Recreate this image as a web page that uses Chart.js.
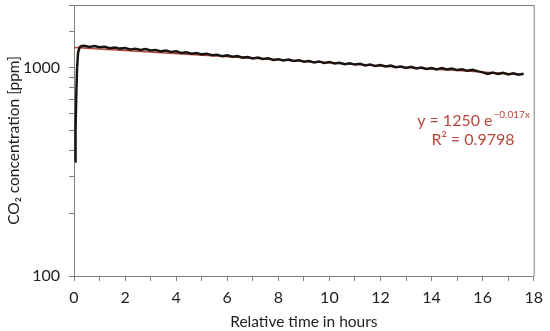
<!DOCTYPE html>
<html>
<head>
<meta charset="utf-8">
<script src="https://cdn.jsdelivr.net/npm/chart.js@4"></script>
<style>
  html, body { margin: 0; padding: 0; background: #fff; }
  #wrap { width: 550px; height: 331px; }
</style>
</head>
<body>
<div id="wrap"><canvas id="co2Chart" width="550" height="331"></canvas></div>
<script>
const riseTimes = [0.04, 0.05, 0.07, 0.09, 0.12, 0.16, 0.22, 0.3];
const riseValues = [355, 380, 500, 750, 1000, 1180, 1255, 1270];

const decayStart = 0.4;
const decayStep = 0.2;
const decayValues = [
  1274, 1258, 1270, 1253, 1260, 1240, 1250, 1235, 1244, 1224,
  1233, 1218, 1229, 1209, 1217, 1198, 1208, 1190, 1198, 1178,
  1186, 1166, 1177, 1159, 1168, 1148, 1155, 1136, 1147, 1129,
  1138, 1118, 1126, 1108, 1118, 1101, 1109, 1090, 1099, 1082,
  1094, 1077, 1087, 1069, 1077, 1060, 1072, 1055, 1066, 1047,
  1056, 1039, 1050, 1035, 1044, 1026, 1035, 1018, 1029, 1013,
  1023, 1005, 1014, 997, 1009, 992, 1003, 986, 997, 982,
  996, 981, 992, 974, 983, 966, 978, 963, 950, 934,
  948, 932, 944, 928, 941, 926, 936
];

// exponential fit end points (y = 1250 e^-0.017x)
const fitTimes = [0, 17.6];
const fitValues = [1250, 927];

const yTickLabels = [100, 1000];

const measured = [];
riseTimes.forEach((t, i) => measured.push({ x: t, y: riseValues[i] }));
decayValues.forEach((v, i) => measured.push({ x: +(decayStart + i * decayStep).toFixed(2), y: v }));
const fitLine = fitTimes.map((t, i) => ({ x: t, y: fitValues[i] }));

const fontFamily = 'Lato, "Open Sans", sans-serif';
const axisGray = '#7f7f7f';
const fitRed = '#b8473b';
const textColor = '#1e1e1e';

// box around the plot plus the fit equation
const extras = {
  id: 'extras',
  afterDraw(chart) {
    const { ctx, chartArea } = chart;
    ctx.save();
    ctx.strokeStyle = axisGray;
    ctx.lineWidth = 1;
    ctx.beginPath();
    ctx.moveTo(chartArea.left, chartArea.top + 0.5);
    ctx.lineTo(chartArea.right + 0.5, chartArea.top + 0.5);
    ctx.lineTo(chartArea.right + 0.5, chartArea.bottom);
    ctx.stroke();

    const cx = 473;
    ctx.fillStyle = fitRed;
    ctx.textBaseline = 'alphabetic';
    const main = 'y = 1250 e';
    const sup = '\u22120.017x';
    ctx.font = '10px ' + fontFamily;
    const supW = ctx.measureText(sup).width;
    ctx.font = '16px ' + fontFamily;
    const mainW = ctx.measureText(main).width;
    const startX = cx - (mainW + supW) / 2;
    ctx.textAlign = 'left';
    ctx.fillText(main, startX, 126);
    ctx.font = '10px ' + fontFamily;
    ctx.fillText(sup, startX + mainW + 1, 118);
    ctx.font = '16px ' + fontFamily;
    ctx.textAlign = 'center';
    ctx.fillText('R\u00B2 = 0.9798', cx, 145);
    ctx.restore();
  }
};

const ctx = document.getElementById('co2Chart').getContext('2d');
new Chart(ctx, {
  type: 'line',
  data: {
    datasets: [{
      label: 'CO2',
      data: measured,
      borderColor: '#1a1410',
      borderWidth: 2.5,
      pointRadius: 0,
      tension: 0,
      order: 1
    }, {
      label: 'fit',
      data: fitLine,
      borderColor: fitRed,
      borderWidth: 1.5,
      pointRadius: 0,
      order: 2
    }]
  },
  options: {
    responsive: false,
    animation: false,
    layout: { padding: { top: 5, right: 11, left: 0, bottom: 0 } },
    plugins: {
      legend: { display: false },
      tooltip: { enabled: false }
    },
    scales: {
      x: {
        type: 'linear',
        min: 0,
        max: 18,
        ticks: {
          stepSize: 1,
          autoSkip: false,
          maxRotation: 0,
          padding: 7,
          color: textColor,
          font: { family: fontFamily, size: 16 },
          callback: v => (v % 2 === 0 ? v : '')
        },
        grid: { display: true, drawOnChartArea: false, tickLength: 5, color: axisGray },
        border: { color: axisGray },
        title: {
          display: true,
          text: 'Relative time in hours',
          color: textColor,
          font: { family: fontFamily, size: 15.5 },
          padding: { top: 1, bottom: 0 }
        },
        afterFit: s => { s.height = 55; }
      },
      y: {
        type: 'logarithmic',
        min: 100,
        max: 2000,
        ticks: {
          autoSkip: false,
          padding: 9,
          color: textColor,
          font: { family: fontFamily, size: 16 },
          callback: v => (yTickLabels.includes(v) ? v : '')
        },
        grid: { display: true, drawOnChartArea: false, tickLength: 5, color: axisGray },
        border: { color: axisGray },
        title: {
          display: true,
          text: 'CO\u2082 concentration [ppm]',
          color: textColor,
          font: { family: fontFamily, size: 15.5 },
          padding: { top: 5, bottom: 4 }
        },
        afterFit: s => { s.width = 74; s.paddingTop = 0; s.paddingBottom = 0; }
      }
    }
  },
  plugins: [extras]
});
</script>
</body>
</html>
